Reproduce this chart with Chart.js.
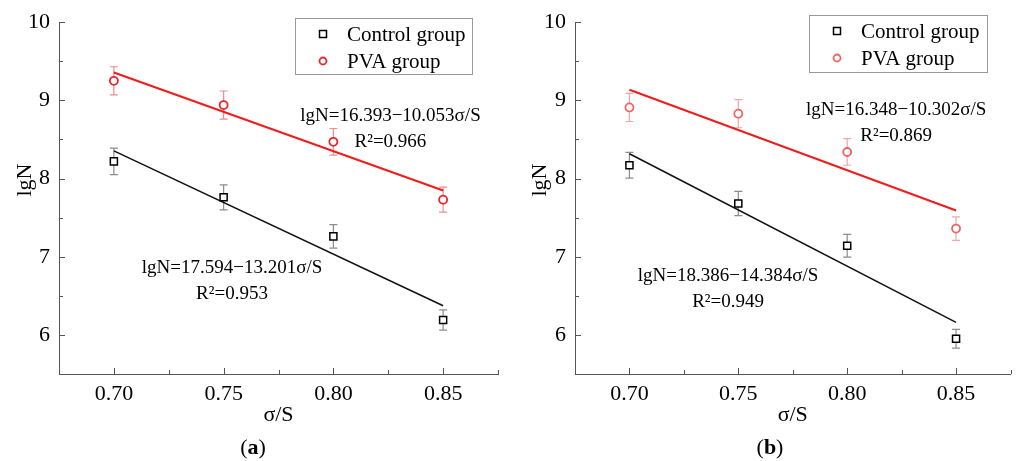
<!DOCTYPE html>
<html>
<head>
<meta charset="utf-8">
<script src="https://cdn.jsdelivr.net/npm/chart.js@4.4.1/dist/chart.umd.min.js"></script>
<style>
  body { margin: 0; background: #fff; }
  canvas { position: absolute; top: 0; }
  #chartA { left: 0; }
  #chartB { left: 508px; }
</style>
</head>
<body>
<canvas id="chartA" width="508" height="461"></canvas>
<canvas id="chartB" width="509" height="461"></canvas>
<script>
// values
const stressLevels = [0.70, 0.75, 0.80, 0.85];
const seriesNames = ['Control group', 'PVA group'];

const controlA = [8.22, 7.76, 7.26, 6.19];
const controlAErr = [0.17, 0.16, 0.15, 0.13];
const pvaA = [9.25, 8.94, 8.47, 7.73];
const pvaAErr = [0.18, 0.18, 0.17, 0.16];
const fitControlA = [17.594, -13.201];
const fitPvaA = [16.393, -10.053];
const r2A = [0.953, 0.966];

const controlB = [8.17, 7.68, 7.14, 5.95];
const controlBErr = [0.165, 0.155, 0.145, 0.12];
const pvaB = [8.91, 8.83, 8.34, 7.36];
const pvaBErr = [0.18, 0.18, 0.17, 0.15];
const fitControlB = [18.386, -14.384];
const fitPvaB = [16.348, -10.302];
const r2B = [0.949, 0.869];

const xTicks = [0.70, 0.75, 0.80, 0.85];
const xMinorTicks = [0.725, 0.775, 0.825, 0.875];
const yTicks = [6, 7, 8, 9, 10];
const yMinorTicks = [6.5, 7.5, 8.5, 9.5];

const FONT = "'Liberation Serif', 'DejaVu Serif', serif";

function eqText(fit) {
    return 'lgN=' + fit[0].toFixed(3) + '\u2212' + Math.abs(fit[1]).toFixed(3) + '\u03c3/S';
}

function fitLine(fit) {
    let x0 = stressLevels[0];
    let x1 = stressLevels[stressLevels.length - 1];
    return [{x: x0, y: fit[0] + fit[1] * x0}, {x: x1, y: fit[0] + fit[1] * x1}];
}

function points(values) {
    return values.map((v, i) => ({x: stressLevels[i], y: v}));
}

function makePanel(id, p) {
    let decor = {
        id: 'decor' + id,
        beforeDatasetsDraw(chart) {
            let ctx = chart.ctx, xs = chart.scales.x, ys = chart.scales.y;
            chart.data.datasets.forEach(ds => {
                if (!ds.errors) return;
                ctx.save();
                ctx.strokeStyle = ds.errorColor;
                ctx.lineWidth = 1.2;
                ds.data.forEach((pt, i) => {
                    let px = xs.getPixelForValue(pt.x);
                    let top = ys.getPixelForValue(pt.y + ds.errors[i]);
                    let bot = ys.getPixelForValue(pt.y - ds.errors[i]);
                    ctx.beginPath();
                    ctx.moveTo(px, top); ctx.lineTo(px, bot);
                    ctx.moveTo(px - 4, top); ctx.lineTo(px + 4, top);
                    ctx.moveTo(px - 4, bot); ctx.lineTo(px + 4, bot);
                    ctx.stroke();
                });
                ctx.restore();
            });
        },
        afterDraw(chart) {
            let ctx = chart.ctx, xs = chart.scales.x, ys = chart.scales.y;
            let area = chart.chartArea;
            ctx.save();
            // inward tick marks
            ctx.strokeStyle = '#555';
            ctx.lineWidth = 1;
            ctx.beginPath();
            xTicks.forEach(v => { let x = Math.round(xs.getPixelForValue(v)) + 0.5; ctx.moveTo(x, area.bottom); ctx.lineTo(x, area.bottom - 6); });
            xMinorTicks.forEach(v => { let x = Math.round(xs.getPixelForValue(v)) + 0.5; ctx.moveTo(x, area.bottom); ctx.lineTo(x, area.bottom - 4); });
            yTicks.forEach(v => { let y = Math.round(ys.getPixelForValue(v)) + 0.5; ctx.moveTo(area.left, y); ctx.lineTo(area.left + 6, y); });
            yMinorTicks.forEach(v => { let y = Math.round(ys.getPixelForValue(v)) + 0.5; ctx.moveTo(area.left, y); ctx.lineTo(area.left + 4, y); });
            ctx.stroke();

            ctx.fillStyle = '#000';
            ctx.textAlign = 'center';
            ctx.textBaseline = 'middle';

            // fit equations
            ctx.font = '19px ' + FONT;
            p.notes.forEach(n => {
                let x = xs.getPixelForValue(n.x);
                ctx.fillText(n.lines[0], x, ys.getPixelForValue(n.y));
                ctx.fillText(n.lines[1], x, ys.getPixelForValue(n.y) + 26);
            });

            // axis titles
            ctx.font = '22px ' + FONT;
            ctx.fillText('\u03c3/S', (area.left + area.right) / 2, 415);
            ctx.save();
            ctx.translate(p.yTitleX, 180);
            ctx.rotate(-Math.PI / 2);
            ctx.fillText('lgN', 0, 0);
            ctx.restore();

            // panel letter
            ctx.textAlign = 'left';
            let w1 = ctx.measureText('(').width;
            ctx.font = 'bold 22px ' + FONT;
            let w2 = ctx.measureText(p.letter).width;
            ctx.font = '22px ' + FONT;
            let w3 = ctx.measureText(')').width;
            let lx = p.letterX - (w1 + w2 + w3) / 2;
            ctx.fillText('(', lx, 448);
            ctx.font = 'bold 22px ' + FONT;
            ctx.fillText(p.letter, lx + w1, 448);
            ctx.font = '22px ' + FONT;
            ctx.fillText(')', lx + w1 + w2, 448);

            // legend
            let b = p.legendBox;
            ctx.strokeStyle = '#999';
            ctx.lineWidth = 1;
            ctx.strokeRect(b.x + 0.5, b.y + 0.5, b.w, b.h);
            ctx.font = '21px ' + FONT;
            let row1 = b.y + 16, row2 = b.y + 43;
            let mx = b.x + 28;
            ctx.strokeStyle = '#000';
            ctx.lineWidth = 1.5;
            ctx.fillStyle = '#fff';
            ctx.fillRect(mx - 3.5, row1 - 3.5, 7, 7);
            ctx.strokeRect(mx - 3.5, row1 - 3.5, 7, 7);
            ctx.strokeStyle = p.pvaColor;
            ctx.lineWidth = 1.8;
            ctx.beginPath();
            ctx.arc(mx, row2, 3.5, 0, Math.PI * 2);
            ctx.stroke();
            ctx.fillStyle = '#000';
            ctx.fillText(seriesNames[0], b.x + 52, row1 + 1);
            ctx.fillText(seriesNames[1], b.x + 52, row2 + 1);
            ctx.restore();
        }
    };

    return new Chart(document.getElementById(id), {
        type: 'scatter',
        data: {
            datasets: [{
                label: seriesNames[0],
                data: points(p.control),
                errors: p.controlErr,
                errorColor: '#8c8c8c',
                pointStyle: 'rect',
                pointRadius: 5,
                borderColor: '#000',
                backgroundColor: '#fff',
                borderWidth: 1.5
            }, {
                label: seriesNames[1],
                data: points(p.pva),
                errors: p.pvaErr,
                errorColor: p.pvaErrColor,
                pointStyle: 'circle',
                pointRadius: 4,
                borderColor: p.pvaColor,
                backgroundColor: '#fff',
                borderWidth: 1.8
            }, {
                type: 'line',
                data: fitLine(p.fitControl),
                borderColor: '#111',
                borderWidth: 1.5,
                pointRadius: 0
            }, {
                type: 'line',
                data: fitLine(p.fitPva),
                borderColor: '#f01c1c',
                borderWidth: 2,
                pointRadius: 0
            }]
        },
        options: {
            responsive: false,
            animation: false,
            layout: { padding: { left: 0, top: 21, right: p.padRight, bottom: 0 } },
            plugins: { legend: { display: false }, tooltip: { enabled: false } },
            scales: {
                x: {
                    type: 'linear',
                    min: 0.675,
                    max: 0.875,
                    grid: { display: false, drawTicks: false },
                    border: { color: '#555', width: 1 },
                    afterBuildTicks: (scale) => { scale.ticks = xTicks.map(v => ({value: v})); },
                    afterFit: (scale) => { scale.height = 87; },
                    ticks: {
                        padding: 7,
                        color: '#000',
                        font: { family: FONT, size: 22 },
                        callback: (v) => Number(v).toFixed(2)
                    }
                },
                y: {
                    min: 5.5,
                    max: 10,
                    grid: { display: false, drawTicks: false },
                    border: { color: '#555', width: 1 },
                    afterBuildTicks: (scale) => { scale.ticks = yTicks.map(v => ({value: v})); },
                    afterFit: (scale) => { scale.width = p.yAxisWidth; },
                    ticks: {
                        padding: 9,
                        color: '#000',
                        font: { family: FONT, size: 22 },
                        callback: (v) => String(v)
                    }
                }
            }
        },
        plugins: [decor]
    });
}

makePanel('chartA', {
    control: controlA, controlErr: controlAErr,
    pva: pvaA, pvaErr: pvaAErr,
    fitControl: fitControlA, fitPva: fitPvaA,
    pvaColor: '#e8262a', pvaErrColor: '#f08c8c',
    yAxisWidth: 59, padRight: 10,
    yTitleX: 25, letter: 'a', letterX: 253,
    legendBox: { x: 295, y: 18, w: 177, h: 56 },
    notes: [
        { x: 0.826, y: 8.80, lines: [eqText(fitPvaA), 'R\u00b2=' + r2A[1].toFixed(3)] },
        { x: 0.7538, y: 6.85, lines: [eqText(fitControlA), 'R\u00b2=' + r2A[0].toFixed(3)] }
    ]
});

makePanel('chartB', {
    control: controlB, controlErr: controlBErr,
    pva: pvaB, pvaErr: pvaBErr,
    fitControl: fitControlB, fitPva: fitPvaB,
    pvaColor: '#f06464', pvaErrColor: '#f5a5a5',
    yAxisWidth: 67, padRight: 4,
    yTitleX: 32, letter: 'b', letterX: 262,
    legendBox: { x: 301, y: 15, w: 178, h: 57 },
    notes: [
        { x: 0.8225, y: 8.88, lines: [eqText(fitPvaB), 'R\u00b2=' + r2B[1].toFixed(3)] },
        { x: 0.7453, y: 6.75, lines: [eqText(fitControlB), 'R\u00b2=' + r2B[0].toFixed(3)] }
    ]
});
</script>
</body>
</html>
